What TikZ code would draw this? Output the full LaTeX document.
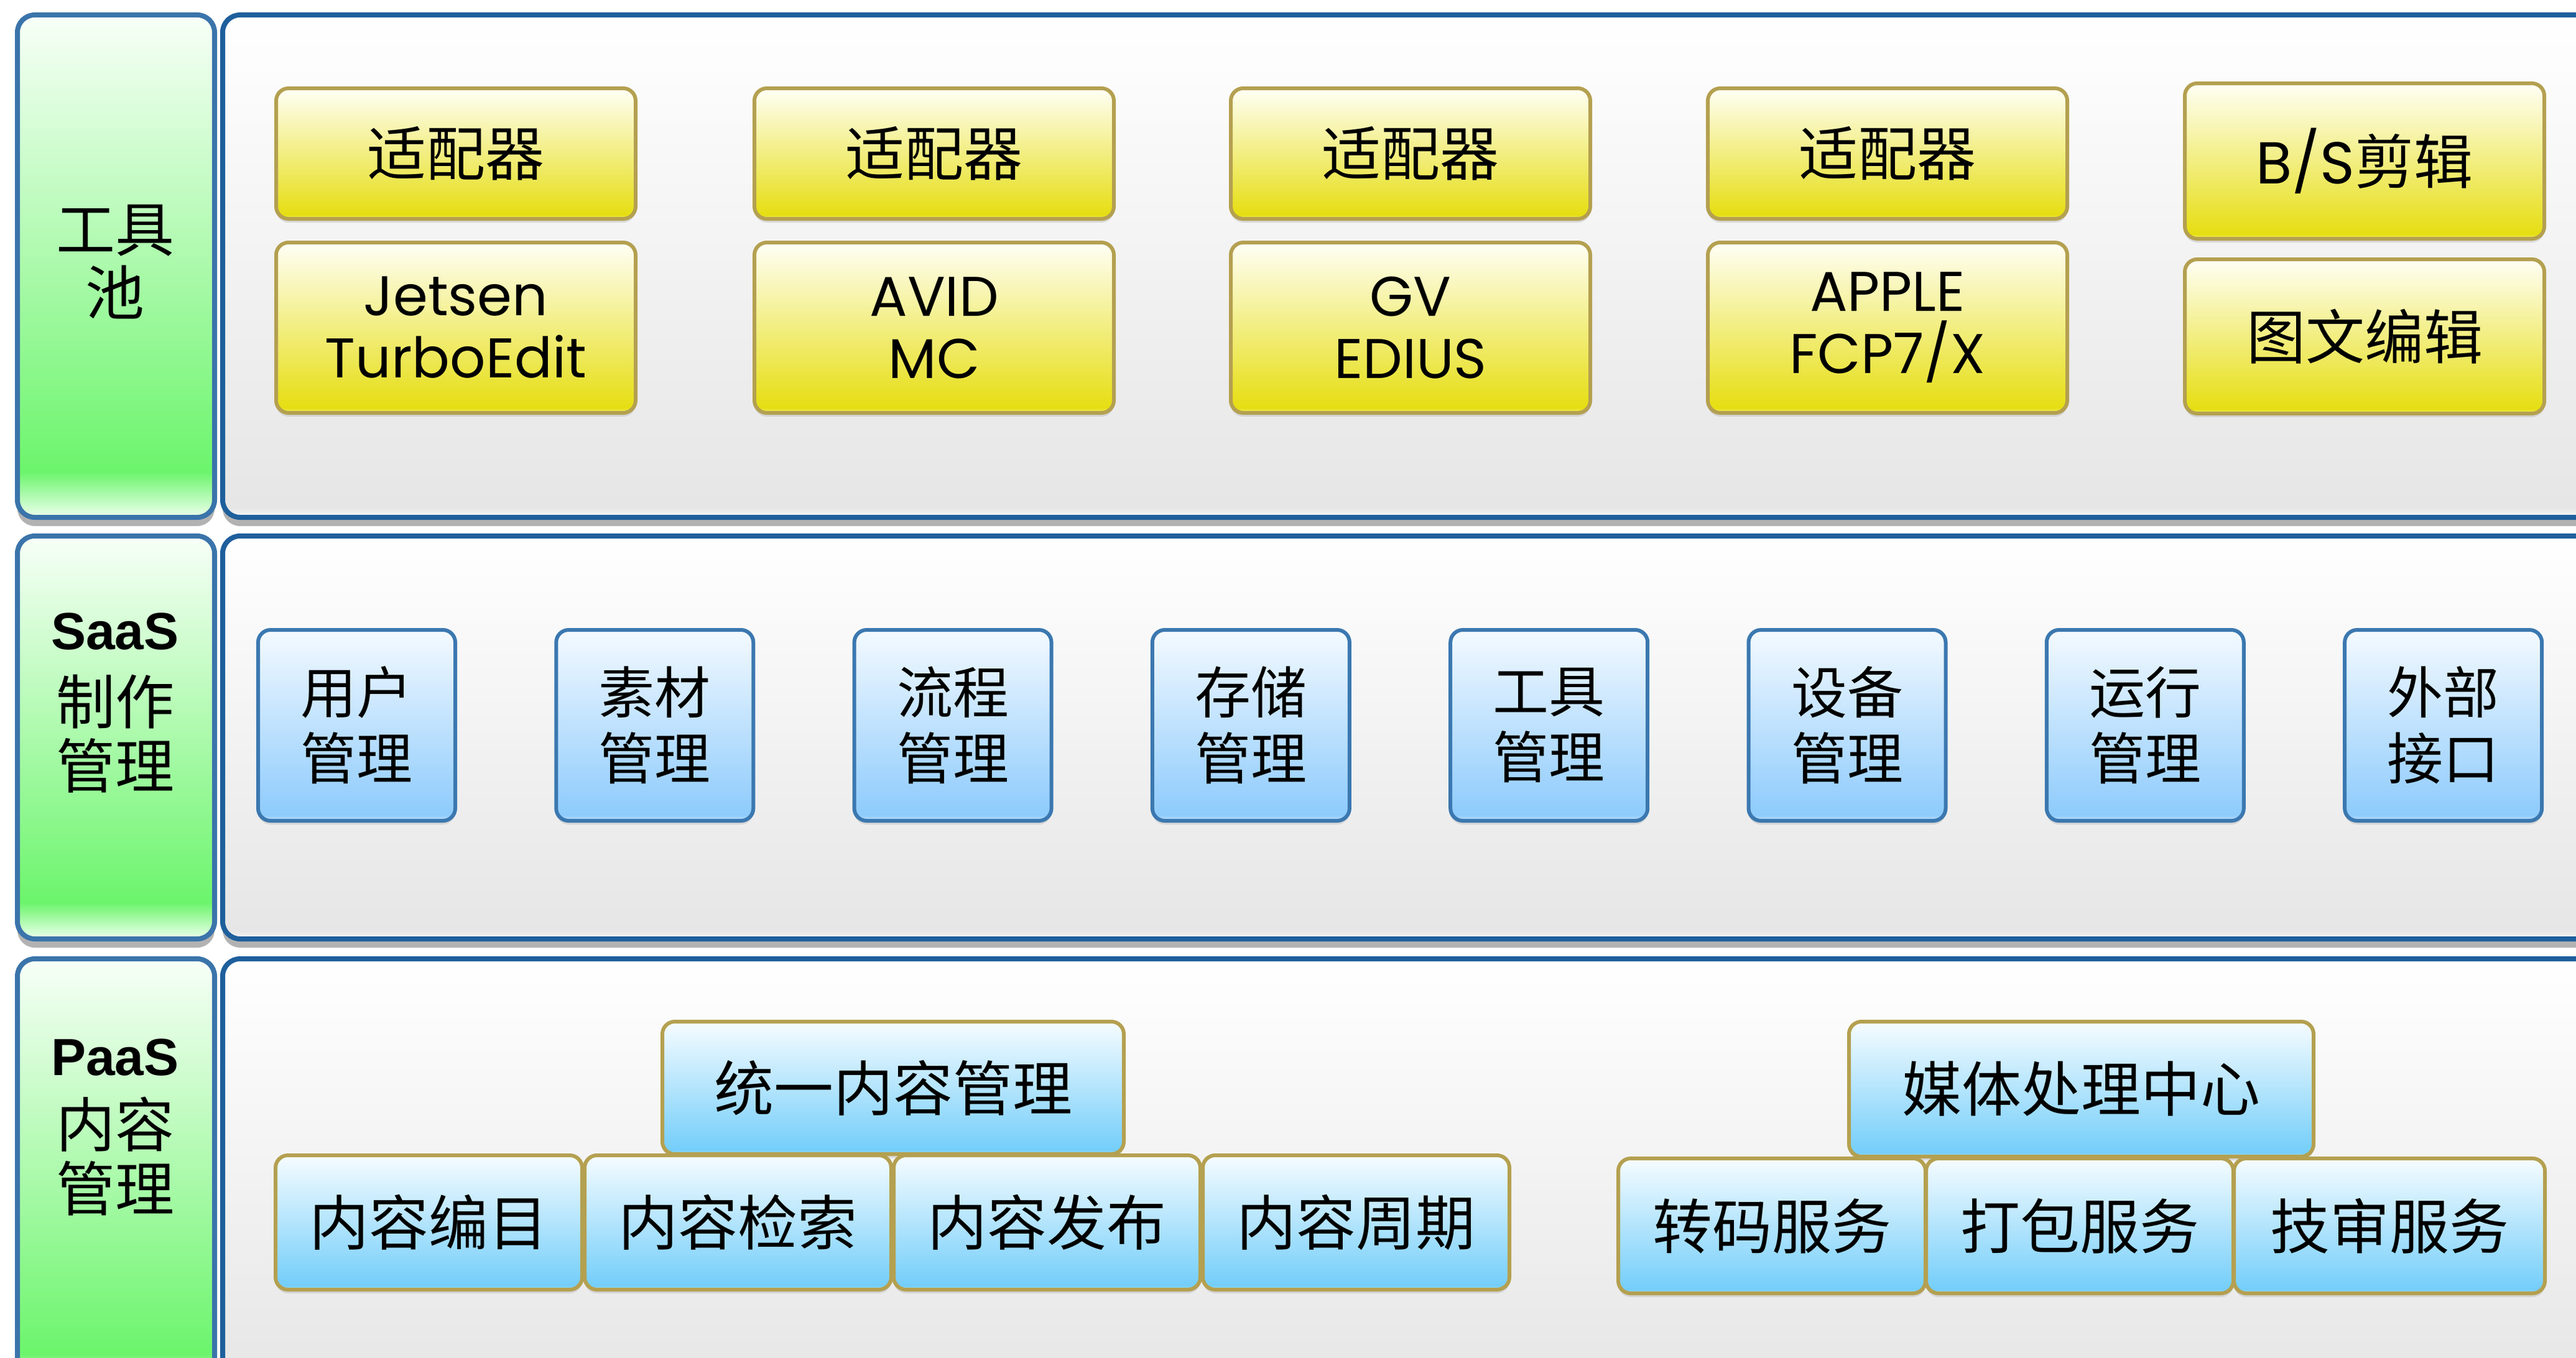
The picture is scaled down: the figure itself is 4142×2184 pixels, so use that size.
\documentclass[tikz,border=0pt]{standalone}
\usepackage{fontspec}
\setmainfont{Noto Sans CJK SC}
\newfontfamily\cjk{Noto Sans CJK SC}
\newfontfamily\geo{Poppins}
\newfontfamily\arb{Liberation Sans}
\usetikzlibrary{shadows}
\definecolor{bandblue}{HTML}{1E5F9C}
\definecolor{labblue}{HTML}{3A74AA}
\definecolor{ygold}{HTML}{B4A050}
\definecolor{bblue}{HTML}{3B78B0}
\definecolor{bandlow}{HTML}{E6E6E6}
\definecolor{bandbot}{HTML}{F6F6F6}
\definecolor{gtop}{HTML}{F8FFF8}
\definecolor{gbright}{HTML}{6CF56C}
\definecolor{gbot}{HTML}{EEFFEE}
\definecolor{ytop}{HTML}{FFFFF6}
\definecolor{ylow}{HTML}{E6DE12}
\definecolor{ylow2}{HTML}{EEEA70}
\definecolor{btop}{HTML}{F4FAFF}
\definecolor{blow}{HTML}{8ECBFC}
\definecolor{blow2}{HTML}{C0E0FA}
\definecolor{ctop}{HTML}{F6FCFF}
\definecolor{clow}{HTML}{74CEFA}
\definecolor{clow2}{HTML}{A6DCF0}
\pgfdeclareverticalshading{bandshade}{100bp}{color(0bp)=(bandbot); color(25bp)=(bandbot); color(26bp)=(bandlow); color(75bp)=(white); color(100bp)=(white)}
\pgfdeclareverticalshading{greenshade}{100bp}{color(0bp)=(gbot); color(25bp)=(gbot); color(29.5bp)=(gbright); color(75bp)=(gtop); color(100bp)=(gtop)}
\pgfdeclareverticalshading{yellowshade}{100bp}{color(0bp)=(ylow2); color(25bp)=(ylow2); color(26.5bp)=(ylow); color(75bp)=(ytop); color(100bp)=(ytop)}
\pgfdeclareverticalshading{blueshade}{100bp}{color(0bp)=(blow2); color(25bp)=(blow2); color(26.5bp)=(blow); color(75bp)=(btop); color(100bp)=(btop)}
\pgfdeclareverticalshading{cyanshade}{100bp}{color(0bp)=(clow2); color(25bp)=(clow2); color(26.5bp)=(clow); color(75bp)=(ctop); color(100bp)=(ctop)}
\tikzset{
  bandbox/.style={draw=bandblue, line width=8pt, rounded corners=28pt, shade, shading=bandshade,
    drop shadow={shadow xshift=0pt, shadow yshift=-14pt, fill=black!55, opacity=0.55}},
  labbox/.style={draw=labblue, line width=8pt, rounded corners=28pt, shade, shading=greenshade,
    drop shadow={shadow xshift=0pt, shadow yshift=-14pt, fill=black!55, opacity=0.55}},
  ybox/.style={draw=ygold, line width=6pt, rounded corners=20pt, shade, shading=yellowshade, align=center,
    drop shadow={shadow xshift=0pt, shadow yshift=-6pt, fill=black!30, opacity=0.4}},
  bbox/.style={draw=bblue, line width=6pt, rounded corners=20pt, shade, shading=blueshade, align=center,
    minimum width=317pt, minimum height=307pt, font=\cjk\fontsize{90}{106}\selectfont,
    drop shadow={shadow xshift=0pt, shadow yshift=-6pt, fill=black!30, opacity=0.4}},
  cbox/.style={draw=ygold, line width=6pt, rounded corners=20pt, shade, shading=cyanshade, align=center,
    font=\cjk\fontsize{96}{104}\selectfont,
    drop shadow={shadow xshift=0pt, shadow yshift=-6pt, fill=black!30, opacity=0.4}},
  ycjk/.style={font=\cjk\fontsize{95}{104}\selectfont},
  ylat/.style={font=\geo\fontsize{90}{100}\selectfont},
  labtxt/.style={font=\cjk\fontsize{95}{102}\selectfont, align=center},
  labbold/.style={font=\arb\bfseries\fontsize{84}{90}\selectfont},
}
\begin{document}
\begin{tikzpicture}[x=1pt, y=-1pt, every node/.style={inner sep=0pt, outer sep=0pt}]
\useasboundingbox (0,0) rectangle (4142,2184);
\clip (0,0) rectangle (4142,2184);
\fill[white] (0,0) rectangle (4142,2184);

% ---------- bands ----------
\node[bandbox, minimum width=3842pt, minimum height=808pt] (band1) at (2279,428) {};
\node[labbox, minimum width=317pt, minimum height=808pt] (lab1) at (186.5,428) {};
\node[bandbox, minimum width=3842pt, minimum height=648pt] (band2) at (2279,1186) {};
\node[labbox, minimum width=317pt, minimum height=648pt] (lab2) at (186.5,1186) {};
\node[bandbox, minimum width=3842pt, minimum height=698pt] (band3) at (2279,1891) {};
\node[labbox, minimum width=317pt, minimum height=698pt] (lab3) at (186.5,1891) {};

% ---------- labels ----------
\node[labtxt] (t1) at (185,421) {工具\\池};
\node[labbold] (t2a) at (185,1016) {SaaS};
\node[labtxt] (t2b) at (185,1129) {制作};
\node[labtxt] (t2c) at (185,1231) {管理};
\node[labbold] (t3a) at (185,1701) {PaaS};
\node[labtxt] (t3b) at (185,1808) {内容};
\node[labtxt] (t3c) at (185,1911) {管理};

% ---------- tool pool ----------
\node[ybox, ycjk, minimum width=578pt, minimum height=210pt] (a1) at (733,247) {适配器};
\node[ybox, ycjk, minimum width=578pt, minimum height=210pt] (a2) at (1502,247) {适配器};
\node[ybox, ycjk, minimum width=578pt, minimum height=210pt] (a3) at (2268,247) {适配器};
\node[ybox, ycjk, minimum width=578pt, minimum height=210pt] (a4) at (3035,247) {适配器};
\node[ybox, ycjk, minimum width=578pt, minimum height=250pt] (a5) at (3802,259) {{\geo B/S}剪辑};
\node[ybox, ylat, minimum width=578pt, minimum height=274pt] (b1) at (733,527) {Jetsen\\TurboEdit};
\node[ybox, ylat, minimum width=578pt, minimum height=274pt] (b2) at (1502,527) {AVID\\MC};
\node[ybox, ylat, minimum width=578pt, minimum height=274pt] (b3) at (2268,527) {GV\\EDIUS};
\node[ybox, ylat, minimum width=578pt, minimum height=274pt] (b4) at (3035,527) {APPLE\\FCP7/X};
\node[ybox, ycjk, minimum width=578pt, minimum height=248pt] (b5) at (3802,541) {图文编辑};

% ---------- SaaS ----------
\node[bbox] (s1) at (573.5,1166.5) {用户\\管理};
\node[bbox] (s2) at (1052.8,1166.5) {素材\\管理};
\node[bbox] (s3) at (1532.1,1166.5) {流程\\管理};
\node[bbox] (s4) at (2011.4,1166.5) {存储\\管理};
\node[bbox] (s5) at (2490.7,1166.5) {工具\\管理};
\node[bbox] (s6) at (2970.0,1166.5) {设备\\管理};
\node[bbox] (s7) at (3449.3,1166.5) {运行\\管理};
\node[bbox] (s8) at (3928.6,1166.5) {外部\\接口};

% ---------- PaaS ----------
\node[cbox, minimum width=742pt, minimum height=213pt] (p0) at (1436,1749.5) {统一内容管理};
\node[cbox, minimum width=493pt, minimum height=216pt] (p1) at (689.5,1966) {内容编目};
\node[cbox, minimum width=493pt, minimum height=216pt] (p2) at (1186.5,1966) {内容检索};
\node[cbox, minimum width=493pt, minimum height=216pt] (p3) at (1683.5,1966) {内容发布};
\node[cbox, minimum width=493pt, minimum height=216pt] (p4) at (2180.5,1966) {内容周期};
\node[cbox, minimum width=747pt, minimum height=217pt] (m0) at (3346.5,1751.5) {媒体处理中心};
\node[cbox, minimum width=494pt, minimum height=217pt] (m1) at (2849,1971.5) {转码服务};
\node[cbox, minimum width=494pt, minimum height=217pt] (m2) at (3344,1971.5) {打包服务};
\node[cbox, minimum width=500pt, minimum height=217pt] (m3) at (3842,1971.5) {技审服务};
\end{tikzpicture}
\end{document}
